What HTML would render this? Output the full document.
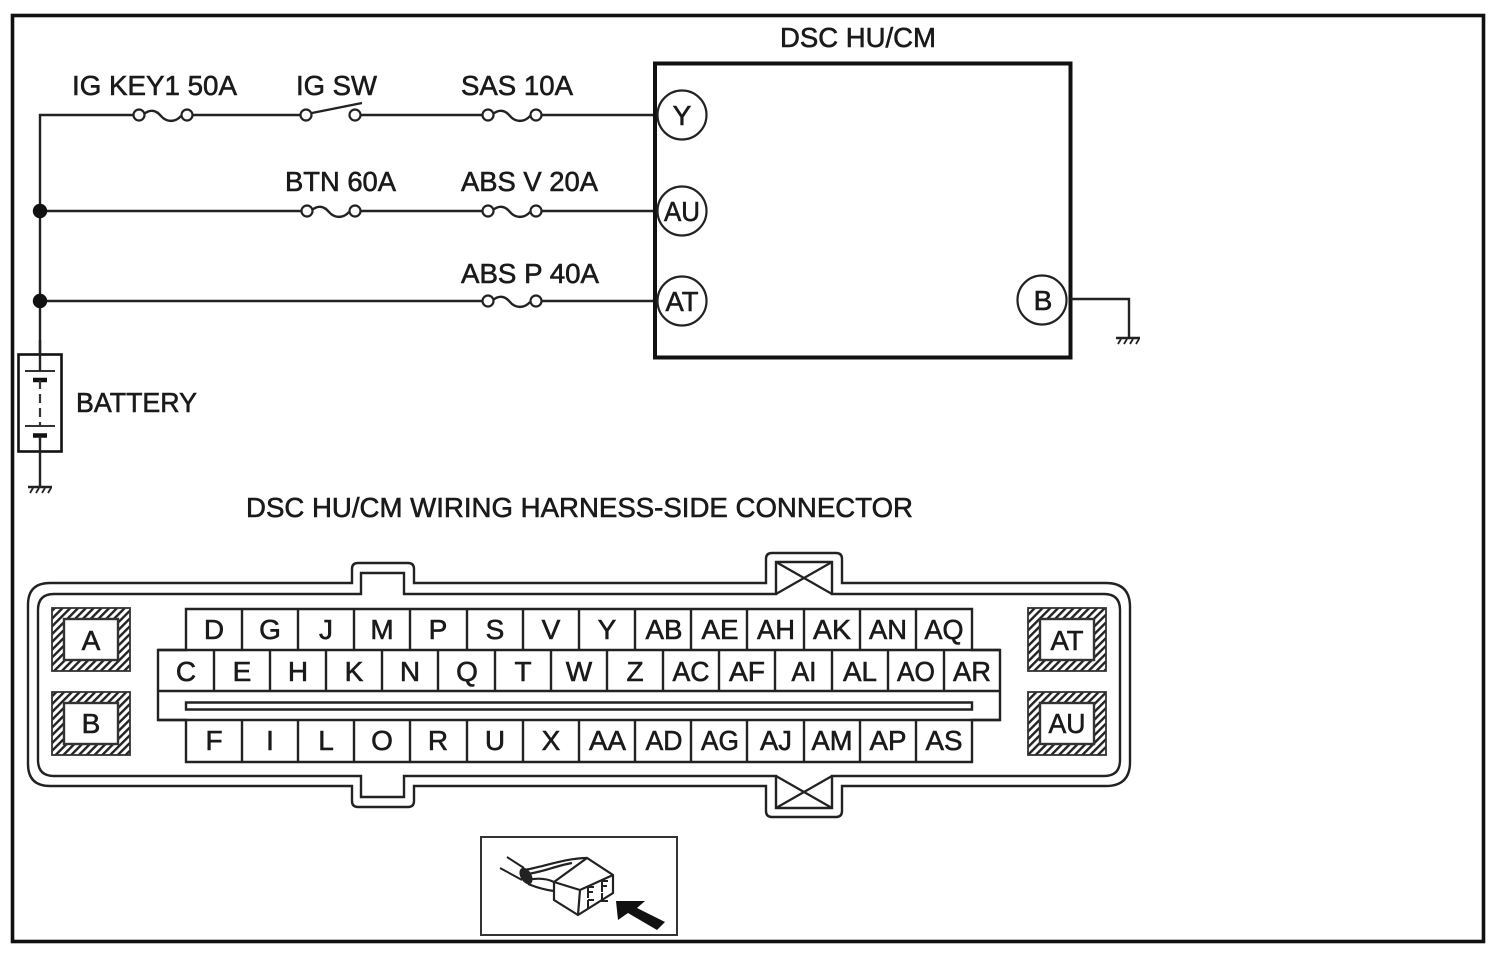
<!DOCTYPE html>
<html>
<head>
<meta charset="utf-8">
<style>
html,body{margin:0;padding:0;background:#fff;width:1494px;height:958px;overflow:hidden}
svg{display:block}
text{font-family:"Liberation Sans",sans-serif;fill:#1a1a1a;stroke:#1a1a1a;stroke-width:.6}
.l{font-size:28px}
.c{font-size:28px;text-anchor:middle}
.w{fill:none;stroke:#222;stroke-width:2.4}
.t{fill:none;stroke:#222;stroke-width:2.4}
.g{fill:#fff;stroke:#333;stroke-width:2.4}
</style>
</head>
<body>
<svg width="1494" height="958" viewBox="0 0 1494 958" xmlns="http://www.w3.org/2000/svg">
<defs>
<pattern id="h" width="5.5" height="5.5" patternUnits="userSpaceOnUse" patternTransform="rotate(45)">
<rect width="5.5" height="5.5" fill="#fff"/><rect width="2.4" height="5.5" fill="#222"/>
</pattern>
<g id="fuse">
<rect x="6" y="-3" width="48" height="6" fill="#fff"/>
<circle cx="6" cy="0" r="5.5" fill="#fff" stroke="#222" stroke-width="2.2"/>
<circle cx="54" cy="0" r="5.5" fill="#fff" stroke="#222" stroke-width="2.2"/>
<path d="M11,-1 C17,-6 23,-5 28,1 C33,7 42,8 48,1" fill="none" stroke="#222" stroke-width="2.4"/>
</g>
<g id="gnd" stroke="#222" fill="none">
<path d="M-12,0H12" stroke-width="2.4"/>
<path d="M-7,1L-10,6M-1,1L-4,6M5,1L2,6M11,1L8,6" stroke-width="1.8"/>
</g>
<g id="xbox"><path d="M0,0L56,32M56,0L0,32" stroke="#222" stroke-width="2.2"/></g>
</defs>

<rect width="1494" height="958" fill="#fff"/>
<rect x="12.500" y="15.500" width="1471" height="926" fill="none" stroke="#111" stroke-width="3.6"/>

<!-- wires -->
<path class="w" d="M654,115H40V354"/>
<path class="w" d="M40,211H654M40,301H654"/>
<circle cx="40" cy="211" r="7.2" fill="#111"/>
<circle cx="40" cy="301" r="7.2" fill="#111"/>

<use href="#fuse" x="133" y="115"/>
<use href="#fuse" x="482" y="115"/>
<use href="#fuse" x="301" y="211"/>
<use href="#fuse" x="482" y="211"/>
<use href="#fuse" x="482" y="301"/>

<!-- switch -->
<rect x="306" y="112" width="49" height="6" fill="#fff"/>
<circle cx="306" cy="115" r="5.5" fill="#fff" stroke="#222" stroke-width="2.2"/>
<circle cx="355" cy="115" r="5.5" fill="#fff" stroke="#222" stroke-width="2.2"/>
<path d="M312,113L362,103" stroke="#222" stroke-width="2.2"/>

<!-- labels -->
<text class="l" x="72" y="95" textLength="165" lengthAdjust="spacingAndGlyphs">IG KEY1 50A</text>
<text class="l" x="296" y="95" textLength="81" lengthAdjust="spacingAndGlyphs">IG SW</text>
<text class="l" x="461" y="95" textLength="112" lengthAdjust="spacingAndGlyphs">SAS 10A</text>
<text class="l" x="285" y="191" textLength="111" lengthAdjust="spacingAndGlyphs">BTN 60A</text>
<text class="l" x="461" y="191" textLength="137" lengthAdjust="spacingAndGlyphs">ABS V 20A</text>
<text class="l" x="461" y="283" textLength="138" lengthAdjust="spacingAndGlyphs">ABS P 40A</text>
<text class="l" x="780" y="47" textLength="156" lengthAdjust="spacingAndGlyphs">DSC HU/CM</text>
<text class="l" x="76" y="412" textLength="121" lengthAdjust="spacingAndGlyphs">BATTERY</text>
<text class="l" x="246" y="517" textLength="667" lengthAdjust="spacingAndGlyphs">DSC HU/CM WIRING HARNESS-SIDE CONNECTOR</text>

<!-- DSC box -->
<rect x="655" y="63.500" width="415.500" height="294" fill="none" stroke="#111" stroke-width="4"/>
<circle cx="682" cy="115" r="24.500" fill="#fff" stroke="#222" stroke-width="2.200"/>
<circle cx="682" cy="211" r="24.500" fill="#fff" stroke="#222" stroke-width="2.200"/>
<circle cx="682" cy="301" r="24.500" fill="#fff" stroke="#222" stroke-width="2.200"/>
<circle cx="1042" cy="300" r="24.500" fill="#fff" stroke="#222" stroke-width="2.200"/>
<text class="c" x="682" y="125">Y</text>
<text class="c" x="682" y="221" textLength="36" lengthAdjust="spacingAndGlyphs">AU</text>
<text class="c" x="682" y="311" textLength="33" lengthAdjust="spacingAndGlyphs">AT</text>
<text class="c" x="1043" y="310">B</text>
<path class="w" d="M1071,299H1129V337"/>
<use href="#gnd" x="1128" y="338"/>

<!-- battery -->
<rect x="18.500" y="354.500" width="43" height="97" fill="none" stroke="#111" stroke-width="2.600"/>
<path d="M25,371H55M25,426H55" stroke="#333" stroke-width="2"/>
<path d="M33,380H47M33,435.500H47" stroke="#111" stroke-width="4.500"/>
<path d="M40,380V425" stroke="#333" stroke-width="2.200" stroke-dasharray="9 5"/>
<path class="w" d="M40,340V371M40,436V487"/>
<use href="#gnd" x="40" y="487"/>

<!-- connector shell -->
<path class="t" d="M352,583H50Q28,583 28,605V764Q28,786 50,786H352V801Q352,807 358,807H408Q414,807 414,801V786H766V811Q766,817 772,817H836Q842,817 842,811V786H1106Q1130,786 1130,762V607Q1130,583 1106,583H842V559Q842,553 836,553H772Q766,553 766,559V583H414V569Q414,563 408,563H358Q352,563 352,569Z"/>
<path class="t" d="M361,594H54Q38,594 38,610V760Q38,776 54,776H361V797H404V776H776V808H832V776H1104Q1120,776 1120,760V610Q1120,594 1104,594H832V562H776V594H404V573H361Z"/>
<use href="#xbox" x="776" y="562"/>
<use href="#xbox" x="776" y="776"/>

<!-- hatched boxes -->
<rect x="52" y="608" width="78" height="63" fill="url(#h)" stroke="#333" stroke-width="1.800"/>
<rect x="64" y="619" width="54" height="41" class="g"/>
<rect x="52" y="692" width="78" height="63" fill="url(#h)" stroke="#333" stroke-width="1.800"/>
<rect x="64" y="703" width="54" height="41" class="g"/>
<rect x="1028" y="608" width="78" height="63" fill="url(#h)" stroke="#333" stroke-width="1.800"/>
<rect x="1040" y="619" width="54" height="41" class="g"/>
<rect x="1028" y="692" width="78" height="63" fill="url(#h)" stroke="#333" stroke-width="1.800"/>
<rect x="1040" y="703" width="54" height="41" class="g"/>
<text class="c" x="91" y="650">A</text>
<text class="c" x="91" y="733">B</text>
<text class="c" x="1067" y="650" textLength="33" lengthAdjust="spacingAndGlyphs">AT</text>
<text class="c" x="1067" y="733" textLength="37" lengthAdjust="spacingAndGlyphs">AU</text>

<!-- terminal grid -->
<path class="t" d="M186,609H972V650H1000V720H972V762H186V720H158V650H186Z"/>
<path class="t" d="M158,650H1000M158,691H1000M158,720H1000"/>
<path d="M186,702.500H972V709.500H186Z" fill="#fff" stroke="#222" stroke-width="2.400"/>
<path class="t" d="M242,609V650M298,609V650M354,609V650M410,609V650M467,609V650M523,609V650M579,609V650M635,609V650M691,609V650M747,609V650M804,609V650M860,609V650M916,609V650"/>
<path class="t" d="M214,650V691M270,650V691M326,650V691M382,650V691M438,650V691M495,650V691M551,650V691M607,650V691M663,650V691M719,650V691M775,650V691M832,650V691M888,650V691M944,650V691"/>
<path class="t" d="M242,720V762M298,720V762M354,720V762M410,720V762M467,720V762M523,720V762M579,720V762M635,720V762M691,720V762M747,720V762M804,720V762M860,720V762M916,720V762"/>

<text class="c" x="214" y="639">D</text><text class="c" x="270" y="639">G</text><text class="c" x="326" y="639">J</text><text class="c" x="382" y="639">M</text><text class="c" x="438" y="639">P</text><text class="c" x="495" y="639">S</text><text class="c" x="551" y="639">V</text><text class="c" x="607" y="639">Y</text><text class="c" x="664" y="639" textLength="37" lengthAdjust="spacingAndGlyphs">AB</text><text class="c" x="720" y="639" textLength="37" lengthAdjust="spacingAndGlyphs">AE</text><text class="c" x="776" y="639" textLength="38" lengthAdjust="spacingAndGlyphs">AH</text><text class="c" x="832" y="639" textLength="38" lengthAdjust="spacingAndGlyphs">AK</text><text class="c" x="888" y="639" textLength="38" lengthAdjust="spacingAndGlyphs">AN</text><text class="c" x="944" y="639" textLength="39" lengthAdjust="spacingAndGlyphs">AQ</text>

<text class="c" x="186" y="681">C</text><text class="c" x="242" y="681">E</text><text class="c" x="298" y="681">H</text><text class="c" x="354" y="681">K</text><text class="c" x="410" y="681">N</text><text class="c" x="467" y="681">Q</text><text class="c" x="523" y="681">T</text><text class="c" x="579" y="681">W</text><text class="c" x="635" y="681">Z</text><text class="c" x="691" y="681" textLength="37" lengthAdjust="spacingAndGlyphs">AC</text><text class="c" x="747" y="681" textLength="36" lengthAdjust="spacingAndGlyphs">AF</text><text class="c" x="804" y="681" textLength="25" lengthAdjust="spacingAndGlyphs">AI</text><text class="c" x="860" y="681" textLength="34" lengthAdjust="spacingAndGlyphs">AL</text><text class="c" x="916" y="681" textLength="38" lengthAdjust="spacingAndGlyphs">AO</text><text class="c" x="972" y="681" textLength="38" lengthAdjust="spacingAndGlyphs">AR</text>

<text class="c" x="214" y="750">F</text><text class="c" x="270" y="750">I</text><text class="c" x="326" y="750">L</text><text class="c" x="382" y="750">O</text><text class="c" x="438" y="750">R</text><text class="c" x="495" y="750">U</text><text class="c" x="551" y="750">X</text><text class="c" x="607.500" y="750" textLength="37" lengthAdjust="spacingAndGlyphs">AA</text><text class="c" x="664" y="750" textLength="37" lengthAdjust="spacingAndGlyphs">AD</text><text class="c" x="720" y="750" textLength="38" lengthAdjust="spacingAndGlyphs">AG</text><text class="c" x="776" y="750" textLength="32" lengthAdjust="spacingAndGlyphs">AJ</text><text class="c" x="832" y="750" textLength="41" lengthAdjust="spacingAndGlyphs">AM</text><text class="c" x="888" y="750" textLength="37" lengthAdjust="spacingAndGlyphs">AP</text><text class="c" x="944" y="750" textLength="37" lengthAdjust="spacingAndGlyphs">AS</text>

<!-- view icon -->
<rect x="481" y="837" width="196" height="98" fill="#fff" stroke="#333" stroke-width="2"/>
<path d="M507,857L524,868M500,868L522,880" stroke="#222" stroke-width="2" fill="none"/>
<path d="M524,870C540,868 565,858 587,858M526,874C540,873 555,866 572,863M526,880C536,878 546,878 554,882M528,884C538,888 546,890 554,891" stroke="#222" stroke-width="2.200" fill="none"/>
<ellipse cx="526" cy="876" rx="5.500" ry="9" fill="#222" transform="rotate(-30 526 876)"/>
<path d="M554,882L587,858L613,875L613,893L578,915L554,900Z" fill="#fff" stroke="#222" stroke-width="2.200"/>
<path d="M554,882L580,890L613,875M580,890L578,915" fill="none" stroke="#222" stroke-width="2.200"/>
<path d="M588,887V898M588,887H594M588,892H593M588,900V908M588,900H594M602,881V892M602,881H608M602,886H607M602,893V901H608" fill="none" stroke="#222" stroke-width="2"/>
<path d="M616,901H645L637,908L665,922L657,930L628,913L618,920Z" fill="#111"/>
</svg>
</body>
</html>
